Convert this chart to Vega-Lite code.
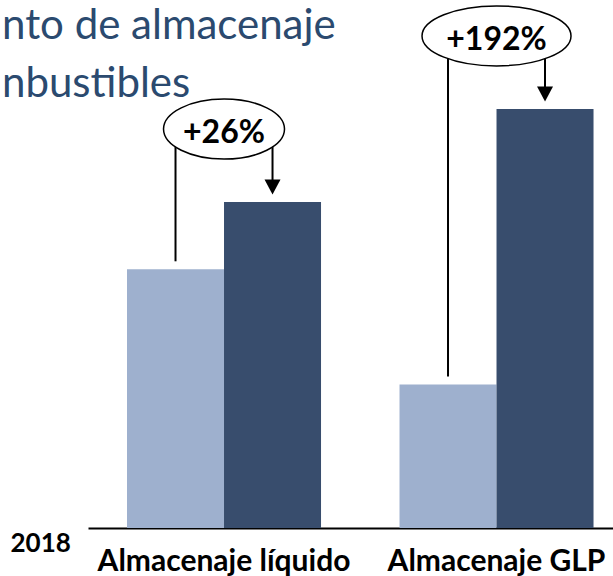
{
  "$schema": "https://vega.github.io/schema/vega-lite/v6.json",
  "width": 525,
  "height": 528,
  "autosize": {"type": "none"},
  "padding": {"left": 88, "top": 0, "right": 0, "bottom": 48},
  "background": "white",
  "title": {
    "text": ["nto de almacenaje", "nbustibles"],
    "anchor": "start",
    "frame": "group",
    "dx": -86,
    "dy": 139,
    "offset": 0,
    "baseline": "alphabetic",
    "lineHeight": 58,
    "font": "Lato",
    "fontSize": 42,
    "fontWeight": "normal",
    "color": "#2B4A6F",
    "limit": 0
  },
  "config": {"view": {"stroke": null}},
  "data": {
    "values": [
      {"categoria": "Almacenaje líquido", "periodo": "2018", "valor": 100},
      {"categoria": "Almacenaje líquido", "periodo": "Actual", "valor": 126, "cambio": "+26%"},
      {"categoria": "Almacenaje GLP", "periodo": "2018", "valor": 55.5},
      {"categoria": "Almacenaje GLP", "periodo": "Actual", "valor": 162, "cambio": "+192%"}
    ]
  },
  "encoding": {
    "x": {
      "field": "categoria",
      "type": "nominal",
      "sort": ["Almacenaje líquido", "Almacenaje GLP"],
      "scale": {"paddingInner": 0.288, "paddingOuter": 0.1073, "align": 0.667},
      "axis": {
        "domain": true,
        "domainColor": "black",
        "domainWidth": 2,
        "ticks": false,
        "tickSize": 0,
        "grid": false,
        "labelAngle": 0,
        "labelFont": "Lato",
        "labelFontSize": 30,
        "labelFontWeight": "bold",
        "labelColor": "black",
        "labelPadding": 42,
        "labelBaseline": "alphabetic",
        "labelOverlap": false,
        "labelLimit": 0,
        "title": "2018",
        "titleX": -78,
        "titleY": 23,
        "titleAlign": "left",
        "titleAngle": 0,
        "titleBaseline": "alphabetic",
        "titleFont": "Lato",
        "titleFontSize": 26,
        "titleFontWeight": "bold",
        "titleColor": "black"
      }
    }
  },
  "layer": [
    {
      "mark": {"type": "bar"},
      "encoding": {
        "xOffset": {"field": "periodo", "type": "nominal", "scale": {"domain": ["2018", "Actual"], "paddingInner": 0, "paddingOuter": 0}},
        "y": {"field": "valor", "type": "quantitative", "scale": {"domain": [0, 204.1], "nice": false, "zero": true}, "axis": null},
        "color": {"field": "periodo", "type": "nominal", "scale": {"domain": ["2018", "Actual"], "range": ["#9EB0CE", "#384D6D"]}, "legend": null}
      }
    },
    {
      "transform": [
        {"joinaggregate": [{"op": "max", "field": "valor", "as": "tope"}], "groupby": ["categoria"]},
        {"filter": "datum.periodo == '2018'"}
      ],
      "mark": {"type": "rule", "color": "black", "strokeWidth": 2, "yOffset": -8, "y2Offset": -73},
      "encoding": {
        "xOffset": {"field": "periodo", "type": "nominal"},
        "y": {"field": "valor", "type": "quantitative"},
        "y2": {"field": "tope"}
      }
    },
    {
      "transform": [{"filter": "datum.periodo == 'Actual'"}],
      "mark": {"type": "rule", "color": "black", "strokeWidth": 2, "yOffset": -16, "y2Offset": -73},
      "encoding": {
        "xOffset": {"field": "periodo", "type": "nominal"},
        "y": {"field": "valor", "type": "quantitative"},
        "y2": {"field": "valor"}
      }
    },
    {
      "transform": [{"filter": "datum.periodo == 'Actual'"}],
      "mark": {"type": "point", "shape": "M -1 -0.94 L 1 -0.94 L 0 0.94 Z", "size": 256, "filled": true, "color": "black", "opacity": 1, "yOffset": -15},
      "encoding": {
        "xOffset": {"field": "periodo", "type": "nominal"},
        "y": {"field": "valor", "type": "quantitative"}
      }
    },
    {
      "transform": [{"filter": "datum.periodo == 'Actual'"}],
      "mark": {"type": "point", "size": 22201, "fill": "white", "stroke": "black", "strokeWidth": 1.5, "opacity": 1, "fillOpacity": 1, "yOffset": -73},
      "encoding": {
        "y": {"field": "valor", "type": "quantitative"},
        "shape": {
          "field": "categoria",
          "type": "nominal",
          "scale": {
            "domain": ["Almacenaje líquido", "Almacenaje GLP"],
            "range": [
              "M -0.812 0 A 0.812 0.403 0 1 1 0.812 0 A 0.812 0.403 0 1 1 -0.812 0 Z",
              "M -1 0 A 1 0.403 0 1 1 1 0 A 1 0.403 0 1 1 -1 0 Z"
            ]
          },
          "legend": null
        }
      }
    },
    {
      "transform": [{"filter": "datum.periodo == 'Actual'"}],
      "mark": {"type": "text", "font": "Lato", "fontSize": 32, "fontWeight": "bold", "color": "black", "baseline": "middle", "align": "center", "yOffset": -69},
      "encoding": {
        "y": {"field": "valor", "type": "quantitative"},
        "text": {"field": "cambio"}
      }
    }
  ]
}
